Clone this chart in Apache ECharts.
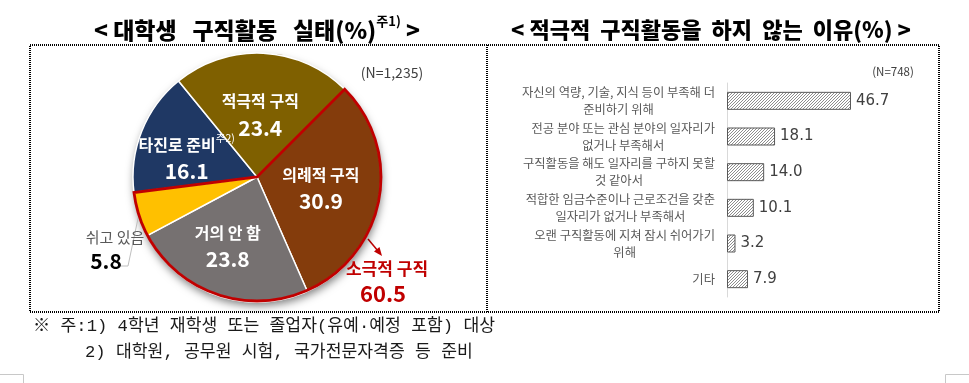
<!DOCTYPE html>
<html><head><meta charset="utf-8">
<script src="https://cdn.jsdelivr.net/npm/echarts@6/dist/echarts.min.js"></script>
<style>html,body{margin:0;padding:0;background:#fff}#c{width:969px;height:383px}</style>
</head><body><div id="c"></div>
<script>
// ---- data ----
const pieNames = ['의례적 구직', '거의 안 함', '쉬고 있음', '타진로 준비', '적극적 구직'];
const pieValues = [30.9, 23.8, 5.8, 16.1, 23.4];
const pieColors = ['#843C0C', '#767171', '#FFC000', '#1F3864', '#7F6000'];
const groupNames = ['소극적 구직', '기타 그룹'];
const groupValues = [60.5, 39.5];
const reasonLabels = [
  '자신의 역량, 기술, 지식 등이 부족해 더\n준비하기 위해',
  '전공 분야 또는 관심 분야의 일자리가\n없거나 부족해서',
  '구직활동을 해도 일자리를 구하지 못할\n것 같아서',
  '적합한 임금수준이나 근로조건을 갖춘\n일자리가 없거나 부족해서',
  '오랜 구직활동에 지쳐 잠시 쉬어가기\n위해',
  '기타'
];
const reasonValues = [46.7, 18.1, 14.0, 10.1, 3.2, 7.9];
const leftTitle = ['< 대학생   구직활동   실태(%)', '주1)', ' >'];
const rightTitle = '< 적극적  구직활동을  하지  않는  이유(%) >';
const leftN = '(N=1,235)';
const rightN = '(N=748)';
const notes = ['※ 주:1) 4학년 재학생 또는 졸업자(유예·예정 포함) 대상', '2) 대학원, 공무원 시험, 국가전문자격증 등 준비'];

const FONT = 'Noto Sans CJK KR';
const NOTEFONT = '"Liberation Mono", "Noto Sans CJK KR"';
const chart = echarts.init(document.getElementById('c'), null, {renderer: 'canvas'});

// hatch pattern
const pc = document.createElement('canvas');
pc.width = 3; pc.height = 3;
const g = pc.getContext('2d');
g.fillStyle = '#ffffff'; g.fillRect(0, 0, 3, 3);
g.strokeStyle = '#808080'; g.lineWidth = 0.9;
g.beginPath();
g.moveTo(-1, 4); g.lineTo(4, -1);
g.moveTo(-1, 1); g.lineTo(1, -1);
g.moveTo(2, 4); g.lineTo(4, 2);
g.stroke();

const CX = 257, CY = 177, R = 124;

const pieData = pieNames.map((n, i) => {
  const d = {name: n, value: pieValues[i], itemStyle: {color: pieColors[i]}};
  if (n === '쉬고 있음') {
    d.label = {position: 'outside'};
    d.labelLine = {show: true, lineStyle: {color: '#bfbfbf', width: 1}};
  }
  return d;
});

const option = {
  backgroundColor: '#ffffff',
  animation: false,
  textStyle: {fontFamily: FONT},
  grid: {left: 727, top: 83, width: 159.3, height: 214},
  xAxis: {type: 'value', min: 0, max: 60, show: false},
  yAxis: {
    type: 'category', data: reasonLabels, inverse: true,
    axisLine: {show: true, lineStyle: {color: '#d9d9d9', width: 1}},
    axisTick: {show: false}, splitLine: {show: false},
    axisLabel: {
      margin: 12, align: 'right',
      formatter: v => v.split('\n').map(s => '{c|' + s + '}').join('\n'),
      rich: {c: {align: 'center', fontSize: 12.3, lineHeight: 17, color: '#595959', fontFamily: FONT}}
    }
  },
  series: [
    {
      type: 'pie', center: [CX, CY + 2], radius: R, silent: true, z: 1,
      data: [{value: 1, name: 'shadow'}],
      label: {show: false}, labelLine: {show: false},
      itemStyle: {color: '#ffffff', shadowBlur: 8, shadowColor: 'rgba(0,0,0,0.5)', shadowOffsetX: 1, shadowOffsetY: 3}
    },
    {
      type: 'pie', center: [CX, CY], radius: R, startAngle: 45, clockwise: true,
      silent: true, z: 2, avoidLabelOverlap: false,
      data: pieData,
      itemStyle: {borderColor: '#ffffff', borderWidth: 1.5},
      label: {
        show: true, position: 'inside',
        formatter: p => {
          if (p.name === '쉬고 있음') return '{g|' + p.name + '}\n{b|' + p.value.toFixed(1) + '}';
          if (p.name === '타진로 준비') return '{n|' + p.name + '}{s|주2)}\n{v|' + p.value.toFixed(1) + '}';
          return '{n|' + p.name + '}\n{v|' + p.value.toFixed(1) + '}';
        },
        rich: {
          n: {fontSize: 16, color: '#ffffff', fontWeight: 'bold', lineHeight: 25, fontFamily: FONT},
          s: {fontSize: 10.5, color: '#ffffff', verticalAlign: 'top', lineHeight: 25, fontFamily: FONT},
          v: {fontSize: 21, color: '#ffffff', fontWeight: 'bold', lineHeight: 28, fontFamily: FONT},
          g: {fontSize: 15, color: '#595959', lineHeight: 22, fontFamily: FONT},
          b: {fontSize: 21, color: '#000000', fontWeight: 'bold', lineHeight: 26, fontFamily: FONT, padding: [0, 18, 0, 0]}
        }
      },
      labelLayout: p => {
        const n = pieNames[p.dataIndex];
        if (n === '타진로 준비') return {dx: -10, dy: 6};
        if (n === '거의 안 함') return {dx: -8, dy: 8};
        if (n === '적극적 구직') return {dx: 0, dy: 3};
        if (n === '쉬고 있음') {
          const s = p.labelLinePoints ? p.labelLinePoints[0] : [CX - 118, CY + 36];
          return {x: 115, y: 250, align: 'center', verticalAlign: 'middle',
            labelLinePoints: [s, [128, 266], [121, 266]]};
        }
        return {};
      },
      emphasis: {disabled: true}
    },
    {
      type: 'pie', center: [CX, CY], radius: R, startAngle: 45, clockwise: true,
      silent: true, z: 3, avoidLabelOverlap: false,
      data: groupNames.map((n, i) => ({
        name: n, value: groupValues[i],
        itemStyle: i === 0 ? {color: 'rgba(0,0,0,0)', borderColor: '#C00000', borderWidth: 2.8, borderJoin: 'miter'}
                           : {color: 'rgba(0,0,0,0)', borderWidth: 0},
        label: {show: i === 0}
      })),
      label: {
        position: 'outside',
        formatter: p => '{r|' + p.name + '}\n{rv|' + p.value.toFixed(1) + '}',
        rich: {
          r: {fontSize: 17, color: '#C00000', fontWeight: 'bold', lineHeight: 24, fontFamily: FONT},
          rv: {fontSize: 22, color: '#C00000', fontWeight: 'bold', lineHeight: 26, fontFamily: FONT, padding: [0, 8, 0, 0]}
        }
      },
      labelLine: {show: false},
      labelLayout: p => p.dataIndex === 0 ? {x: 387, y: 282, align: 'center', verticalAlign: 'middle'} : {},
      emphasis: {disabled: true}
    },
    {
      type: 'bar', data: reasonValues, barWidth: 18, silent: true,
      itemStyle: {color: {image: pc, repeat: 'repeat'}, borderColor: '#595959', borderWidth: 1},
      label: {show: true, position: 'right', distance: 5, formatter: p => p.value.toFixed(1),
        fontSize: 15, color: '#404040', fontFamily: '"DejaVu Sans"'}
    }
  ],
  graphic: [
    {type: 'rect', silent: true, shape: {x: 30, y: 45, width: 909, height: 267},
      style: {fill: null, stroke: '#000', lineWidth: 2, lineDash: [1, 1]}},
    {type: 'line', silent: true, shape: {x1: 487, y1: 45, x2: 487, y2: 312},
      style: {stroke: '#000', lineWidth: 2, lineDash: [1, 1]}},
    {type: 'polyline', silent: true, shape: {points: [[0, 374.5], [23.5, 374.5], [23.5, 383]]}, style: {stroke: '#c8c8c8', lineWidth: 1, fill: null}},
    {type: 'polyline', silent: true, shape: {points: [[969, 374.5], [945.5, 374.5], [945.5, 383]]}, style: {stroke: '#c8c8c8', lineWidth: 1, fill: null}},
    {type: 'text', silent: true, x: 257, y: 30, style: {
      text: '{t|' + leftTitle[0] + '}{s|' + leftTitle[1] + '}{t|' + leftTitle[2] + '}',
      align: 'center', verticalAlign: 'middle',
      rich: {t: {fontSize: 23, fontWeight: 900, fill: '#000', fontFamily: FONT, lineHeight: 30},
             s: {fontSize: 13, fontWeight: 'bold', fill: '#000', fontFamily: FONT, verticalAlign: 'top', lineHeight: 30}}
    }},
    {type: 'text', silent: true, x: 711, y: 30, style: {
      text: rightTitle, align: 'center', verticalAlign: 'middle',
      fontSize: 22, fontWeight: 900, fill: '#000', fontFamily: FONT
    }},
    {type: 'text', silent: true, x: 392, y: 73, style: {text: leftN, align: 'center', verticalAlign: 'middle', fontSize: 14, fill: '#404040', fontFamily: FONT}},
    {type: 'text', silent: true, x: 893, y: 72, style: {text: rightN, align: 'center', verticalAlign: 'middle', fontSize: 11.5, fill: '#404040', fontFamily: FONT}},
    {type: 'text', silent: true, x: 33, y: 326, style: {text: notes[0], align: 'left', verticalAlign: 'middle', fontSize: 17.2, fill: '#1a1a1a', fontFamily: NOTEFONT}},
    {type: 'text', silent: true, x: 85, y: 352, style: {text: notes[1], align: 'left', verticalAlign: 'middle', fontSize: 17.2, fill: '#1a1a1a', fontFamily: NOTEFONT}},
    {type: 'line', silent: true, shape: {x1: 368, y1: 239, x2: 378, y2: 251}, style: {stroke: '#C00000', lineWidth: 1.5}},
    {type: 'polygon', silent: true, shape: {points: [[382, 256], [374, 251.5], [379.5, 247]]}, style: {fill: '#C00000'}}
  ]
};
chart.setOption(option);
</script>
</body></html>
